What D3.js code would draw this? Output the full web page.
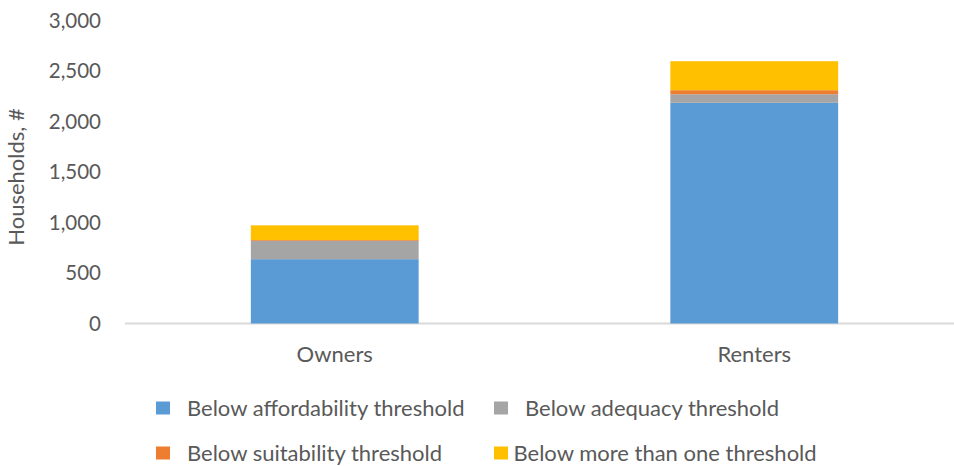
<!DOCTYPE html>
<html>
<head>
<meta charset="utf-8">
<script src="https://cdn.jsdelivr.net/npm/d3@7"></script>
<style>
  body { margin: 0; background: #fff; }
  svg { display: block; font-family: Lato, sans-serif; }
  .tick text, .cat, .ytitle, .leg text { fill: #595959; }
</style>
</head>
<body>
<svg id="chart" width="954" height="466"></svg>
<script>
// categories and series (households, #)
var categories = ["Owners", "Renters"];
var seriesNames = ["Below affordability threshold", "Below adequacy threshold",
                   "Below suitability threshold", "Below more than one threshold"];
var affordability = [637, 2185];
var adequacy = [182, 85];
var suitability = [8, 40];
var moreThanOne = [145, 287];
var yTicks = [0, 500, 1000, 1500, 2000, 2500, 3000];
var colors = ["#5b9bd5", "#a5a5a5", "#ed7d31", "#ffc000"];

var svg = d3.select("#chart");

var x = d3.scaleBand().domain(categories).range([125, 964]).padding(0);
var y = d3.scaleLinear().domain([0, 3000]).range([323.5, 20.5]);

// baseline
svg.append("line")
  .attr("x1", 125).attr("x2", 954)
  .attr("y1", y(0)).attr("y2", y(0))
  .attr("stroke", "#d9d9d9").attr("stroke-width", 2);

// y axis labels only
var yAxis = svg.append("g")
  .attr("transform", "translate(101,0)")
  .call(d3.axisLeft(y).tickValues(yTicks).tickFormat(d3.format(",")).tickSize(0).tickPadding(0));
yAxis.select(".domain").remove();
yAxis.selectAll("text").attr("font-size", 20.5).attr("font-family", "Lato, sans-serif");

svg.append("text")
  .attr("class", "ytitle")
  .attr("transform", "translate(24,177) rotate(-90)")
  .attr("text-anchor", "middle")
  .attr("font-size", 22)
  .text("Households, #");

// stacked data
var rows = categories.map(function(c, i) {
  return { cat: c, a: affordability[i], b: adequacy[i], c: suitability[i], d: moreThanOne[i] };
});
var stack = d3.stack().keys(["a", "b", "c", "d"]);
var layers = stack(rows);

var barW = x.bandwidth() * 0.4;
svg.selectAll(".layer")
  .data(layers)
  .enter().append("g")
    .attr("class", "layer")
    .attr("fill", function(d, i) { return colors[i]; })
  .selectAll("rect")
  .data(function(d) { return d; })
  .enter().append("rect")
    .attr("x", function(d) { return x(d.data.cat) + (x.bandwidth() - barW) / 2; })
    .attr("width", barW)
    .attr("y", function(d) { return y(d[1]); })
    .attr("height", function(d) { return y(d[0]) - y(d[1]); });

// category labels
svg.selectAll(".cat")
  .data(categories)
  .enter().append("text")
    .attr("class", "cat")
    .attr("x", function(d) { return x(d) + x.bandwidth() / 2; })
    .attr("y", 362)
    .attr("text-anchor", "middle")
    .attr("font-size", 22)
    .text(function(d) { return d; });

// legend (two rows, two columns like Excel lays it out)
var legX = [156, 494, 156, 494];
var legY = [408, 408, 453, 453];
var legGap = [31, 31, 31, 19.5];
var leg = svg.selectAll(".leg")
  .data(seriesNames)
  .enter().append("g")
    .attr("class", "leg")
    .attr("transform", function(d, i) { return "translate(" + legX[i] + "," + legY[i] + ")"; });
leg.append("rect")
  .attr("x", 0).attr("y", -6.5).attr("width", 14).attr("height", 13)
  .attr("fill", function(d, i) { return colors[i]; });
leg.append("text")
  .attr("x", function(d, i) { return legGap[i]; })
  .attr("dy", "0.35em")
  .attr("font-size", 22)
  .text(function(d) { return d; });
</script>
</body>
</html>
